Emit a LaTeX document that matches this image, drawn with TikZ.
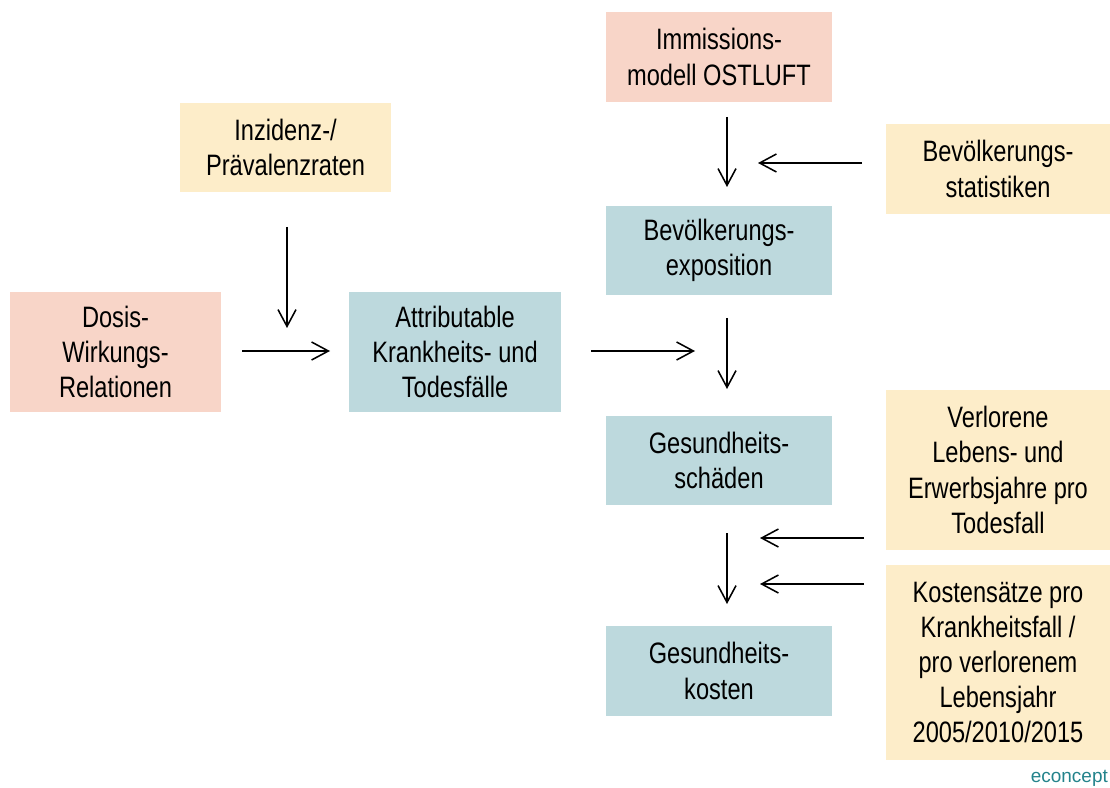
\documentclass[tikz,border=0pt]{standalone}
\usepackage{fontspec}
\setmainfont{Liberation Sans}[FakeStretch=0.8]
\newfontfamily\logofont{Liberation Sans}
\usepackage{xcolor}
\usetikzlibrary{positioning,arrows.meta}

\definecolor{salmon}{HTML}{F8D5C8}
\definecolor{sand}{HTML}{FDEDC9}
\definecolor{teal}{HTML}{BDD9DD}
\definecolor{logoteal}{HTML}{23838B}

\begin{document}
\begin{tikzpicture}[>={Straight Barb[length=4.2mm,width=4.5mm]},line width=1.1pt,
    box/.style={inner sep=2pt,align=center,font=\fontsize{21}{25}\selectfont},
    input/.style={box,fill=salmon},
    data/.style={box,fill=sand},
    result/.style={box,fill=teal}]

    \useasboundingbox (0,0) rectangle (27.75,-19.7);

    % The boxes
	\node [input,minimum width=5.65cm,minimum height=2.25cm] at (17.975,-1.425) (imm) {Immissions-\\modell OSTLUFT};
	\node [data,minimum width=5.275cm,minimum height=2.225cm] at (7.1375,-3.6875) (inz) {Inzidenz-/\\Prävalenzraten};
	\node [data,minimum width=5.6cm,minimum height=2.25cm] at (24.95,-4.225) (stat) {Bevölkerungs-\\statistiken};
	\node [result,minimum width=5.65cm,minimum height=2.225cm] at (17.975,-6.2625) (exp) {Bevölkerungs-\\exposition};
	\node [input,minimum width=5.275cm,minimum height=3cm] at (2.8875,-8.8) (dos) {Dosis-\\Wirkungs-\\Relationen};
	\node [result,minimum width=5.3cm,minimum height=3cm] at (11.375,-8.8) (att) {Attributable\\Krankheits- und\\Todesfälle};
	\node [result,minimum width=5.65cm,minimum height=2.225cm] at (17.975,-11.5125) (sch) {Gesundheits-\\schäden};
	\node [data,minimum width=5.6cm,minimum height=4cm] at (24.95,-11.75) (verl) {Verlorene\\Lebens- und\\Erwerbsjahre pro\\Todesfall};
	\node [data,minimum width=5.6cm,minimum height=4.875cm] at (24.95,-16.5625) (satz) {Kostensätze pro\\Krankheitsfall /\\pro verlorenem\\Lebensjahr\\2005/2010/2015};
	\node [result,minimum width=5.65cm,minimum height=2.25cm] at (17.975,-16.775) (kost) {Gesundheits-\\kosten};

	\node [anchor=east,inner sep=1pt,text=logoteal,font=\logofont\fontsize{13.5}{16}\selectfont] at (27.75,-19.45) (logo) {econcept};

	% Arrow ends
	\coordinate (imm-out) at (18.175,-2.925);
	\coordinate (exp-in) at (18.175,-4.675);
	\coordinate (stat-out) at (21.55,-4.075);
	\coordinate (stat-in) at (18.95,-4.075);
	\coordinate (inz-out) at (7.175,-5.675);
	\coordinate (inz-in) at (7.175,-8.2);
	\coordinate (dos-out) at (6.05,-8.775);
	\coordinate (dos-in) at (8.25,-8.775);
	\coordinate (att-out) at (14.775,-8.775);
	\coordinate (att-in) at (17.375,-8.775);
	\coordinate (exp-out) at (18.175,-7.95);
	\coordinate (sch-in) at (18.175,-9.725);
	\coordinate (verl-out) at (21.6,-13.45);
	\coordinate (verl-in) at (19.0,-13.45);
	\coordinate (satz-out) at (21.6,-14.6);
	\coordinate (satz-in) at (19.0,-14.6);
	\coordinate (sch-out) at (18.175,-13.325);
	\coordinate (kost-in) at (18.175,-15.1);

	% Graph edges
	\path[->]
	(imm-out) edge (exp-in)
	(stat-out) edge (stat-in)
	(inz-out) edge (inz-in)
	(dos-out) edge (dos-in)
	(att-out) edge (att-in)
	(exp-out) edge (sch-in)
	(verl-out) edge (verl-in)
	(satz-out) edge (satz-in)
	(sch-out) edge (kost-in)
	;

\end{tikzpicture}
\end{document}
